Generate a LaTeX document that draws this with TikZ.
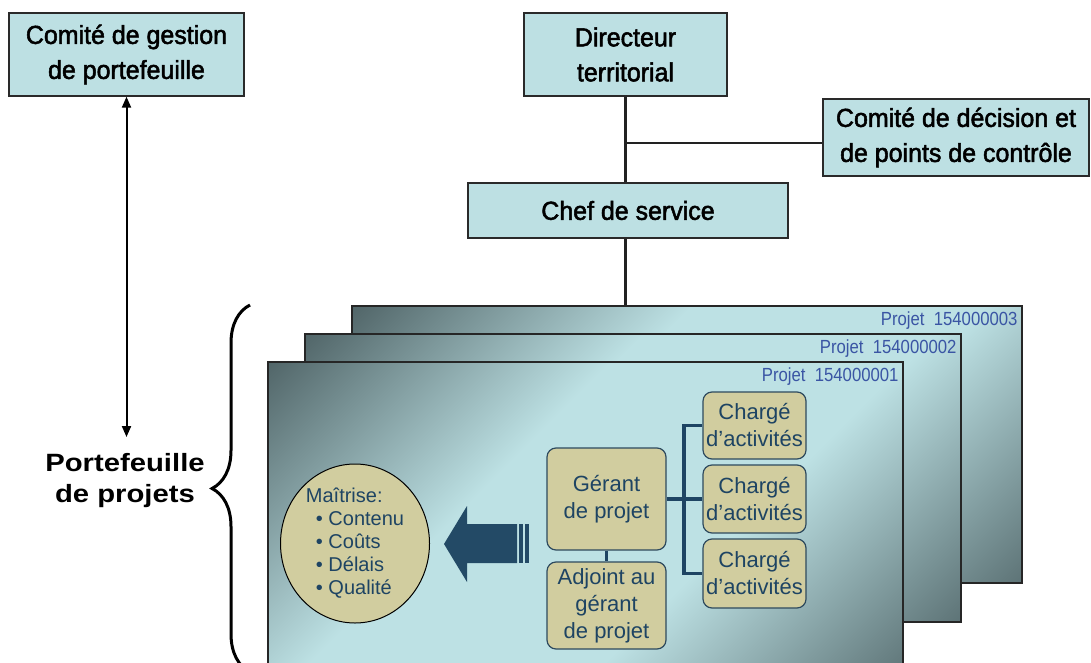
\documentclass[tikz,border=0pt]{standalone}
\usepackage{fontspec}
\setmainfont{Liberation Sans}
\newfontfamily\hdrfont[FakeStretch=0.96,FakeBold=2]{Liberation Sans}
\newfontfamily\lblfont[FakeStretch=0.88]{Liberation Sans}
\newfontfamily\pffont[FakeStretch=1.17]{Liberation Sans}
\usetikzlibrary{arrows.meta,shapes.geometric,decorations.pathreplacing}

\definecolor{hdrfill}{HTML}{BDE0E3}
\definecolor{hdrline}{HTML}{2A2A2A}
\definecolor{treeline}{HTML}{222222}
\definecolor{paneldark}{HTML}{4F6366}
\definecolor{panellight}{HTML}{BDE1E4}
\definecolor{khaki}{HTML}{D1CD9F}
\definecolor{navy}{HTML}{1E4463}
\definecolor{rolebd}{HTML}{2E4A5E}
\definecolor{lblblue}{HTML}{3A55A4}
\definecolor{arrowblue}{HTML}{234A66}

% diagonal panel gradient: dark corners, broad light band
\pgfdeclareverticalshading{panelshade}{100bp}{%
  color(0bp)=(paneldark); color(11bp)=(paneldark); color(38bp)=(panellight);
  color(60bp)=(panellight); color(86bp)=(paneldark); color(100bp)=(paneldark)}

\begin{document}
\begin{tikzpicture}[x=1pt,y=-1pt,
  hdrbox/.style={draw=hdrline, line width=1.3pt, fill=hdrfill, text=black,
    align=center, inner sep=0pt, font=\hdrfont\fontsize{26}{35}\selectfont},
  tree/.style={draw=treeline, line width=2.8pt},
  panel/.style={draw=black!85, line width=1.5pt, shading=panelshade,
    shading angle=45, inner sep=0pt},
  projlabel/.style={anchor=base east, text=lblblue, inner sep=0pt,
    font=\lblfont\fontsize{19}{22}\selectfont},
  rolebox/.style={draw=rolebd, line width=1.2pt, fill=khaki, rounded corners=9pt,
    text=navy, align=center, inner sep=0pt, font=\fontsize{22}{27}\selectfont},
  link/.style={draw=navy, line width=3.6pt},
  scopebubble/.style={ellipse, draw=black, line width=1pt, fill=khaki, text=navy,
    align=left, inner sep=0pt, minimum width=149pt, minimum height=159pt,
    font=\fontsize{20}{23}\selectfont},
]
\useasboundingbox[fill=white] (0,0) rectangle (1091,663);

% --- governance boxes ---
\node[hdrbox, minimum width=235pt, minimum height=83pt] (cgp) at (126.5,54.5)
  {Comité de gestion\\de portefeuille};
\node[hdrbox, minimum width=203pt, minimum height=83pt] (dir) at (625.5,54.5)
  {Directeur\\territorial};
\node[hdrbox, minimum width=266pt, minimum height=77pt] (cdc) at (956,137.5)
  {Comité de décision et\\de points de contrôle};
\node[hdrbox, minimum width=320pt, minimum height=55pt] (chef) at (628,210.5)
  {Chef de service};

% --- stacked project panels ---
\node[panel, minimum width=670pt, minimum height=277pt] (p3) at (687,444.5) {};
\node[projlabel] at ([xshift=-5pt,yshift=-20.5pt]p3.north east) {Projet~~154000003};
\node[panel, minimum width=656pt, minimum height=288pt] (p2) at (633,478) {};
\node[projlabel] at ([xshift=-5pt,yshift=-20.5pt]p2.north east) {Projet~~154000002};
\node[panel, minimum width=635pt, minimum height=318pt] (p1) at (585.5,521) {};
\node[projlabel] at ([xshift=-5pt,yshift=-20.5pt]p1.north east) {Projet~~154000001};

% --- tree connectors ---
\draw[tree] (dir.south) -- (dir.south |- chef.north);
\draw[tree] (dir.south |- cdc.west) ++(0,5.5) -- ([yshift=-5.5pt]cdc.west);
\draw[tree] (dir.south |- chef.south) -- (dir.south |- p3.north);

% --- portfolio label, arrow and brace ---
\node[font=\pffont\bfseries\fontsize{25}{31}\selectfont, align=center, inner sep=0pt]
  (pf) at (125,481) {Portefeuille\\de projets};
\coordinate (pftop) at (126.5,437);
\draw[{Triangle[length=11pt,width=9pt]}-{Triangle[length=11pt,width=9pt]}, line width=2pt]
  (cgp.south) -- (pftop);
\draw[line width=3pt, decorate, decoration={brace, amplitude=38pt}]
  (250,672) -- (250,305);

% --- project team ---
\node[rolebox, minimum width=119pt, minimum height=102pt] (ger) at (606.5,499)
  {Gérant\\de projet};
\node[rolebox, minimum width=119pt, minimum height=87pt] (adj) at (606.5,605.5)
  {Adjoint au\\gérant\\de projet};
\node[rolebox, minimum width=103pt, minimum height=67pt] (ca1) at (754.5,425.5)
  {Chargé\\d’activités};
\node[rolebox, minimum width=103pt, minimum height=68pt] (ca2) at (754.5,499)
  {Chargé\\d’activités};
\node[rolebox, minimum width=103pt, minimum height=69pt] (ca3) at (754.5,573.5)
  {Chargé\\d’activités};
\coordinate (trunk) at (684,0);
\draw[link] (ger.east) -- (ca2.west);
\draw[link] (ca1.west) -- (ca1.west -| trunk) -- (ca3.west -| trunk) -- (ca3.west);
\draw[link] (ger.south) -- (adj.north);

% --- scope bubble and block arrow ---
\node[scopebubble] (scope) at (355,543.5)
  {Maîtrise:\\\hspace*{10pt}\textbullet\ Contenu\\\hspace*{10pt}\textbullet\ Coûts\\
   \hspace*{10pt}\textbullet\ Délais\\\hspace*{10pt}\textbullet\ Qualité};
\fill[arrowblue] (444,544) -- (467,506) -- (467,524) -- (517,524) -- (517,563)
  -- (467,563) -- (467,582) -- cycle;
\fill[arrowblue] (519,524) rectangle (523,563);
\fill[arrowblue] (525,524) rectangle (528.5,563);
\end{tikzpicture}
\end{document}
